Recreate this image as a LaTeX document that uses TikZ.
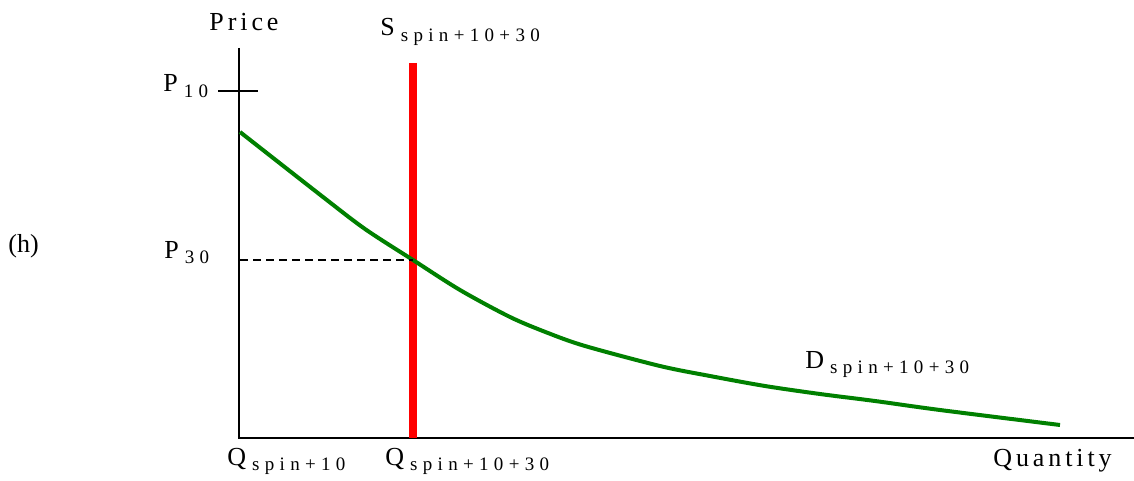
\documentclass[tikz,border=0pt]{standalone}
\usepackage{fontspec}
\setmainfont{Liberation Serif}
\newfontfamily\spacedfont[LetterSpace=15]{Liberation Serif}
\newfontfamily\subfont[LetterSpace=28]{Liberation Serif}
\usetikzlibrary{positioning}
\definecolor{demandgreen}{HTML}{008000}
\definecolor{supplyred}{HTML}{FF0000}
\newcommand{\sublab}[2]{#1\hspace{3pt}\raisebox{-0.45ex}{\fontsize{9.5}{10}\subfont #2}}

\begin{document}
\begin{tikzpicture}[x=0.5pt, y=-0.5pt,
  axis/.style={black, line width=1pt},
  demand/.style={demandgreen, line width=2pt},
  supply/.style={supplyred, line width=4pt},
  guide/.style={black, line width=0.7pt, dash pattern=on 4pt off 2.5pt},
  lbl/.style={font=\fontsize{13}{15}\selectfont\spacedfont, inner sep=0pt},
]
\useasboundingbox (0,0) rectangle (1134,481);
% axes
\coordinate (O)    at (239,438);
\coordinate (ytop) at (239,48);
\coordinate (xend) at (1134,438);
\draw[axis] (ytop) -- (O) -- (xend);
\coordinate (tickl) at (218,91);
\coordinate (tickr) at (258,91);
\draw[axis] (tickl) -- (tickr);
% supply
\coordinate (stop) at (413,63);
\coordinate (sbot) at (413,438);
\draw[supply] (stop) -- (sbot);
% demand
\draw[demand] plot[smooth, tension=0.5] coordinates {(240,132) (323,197) (365,229) (413,260) (460,290) (510,317) (548,333) (585,346) (660,366) (710,376) (765,386) (820,394) (875,401) (940,410) (1060,425)};
% equilibrium price
\coordinate (p30) at (240,260);
\coordinate (eq)  at (413,260);
\draw[guide] (p30) -- (eq);
% labels
\node[lbl, anchor=base] (price) at (244,31) {Price};
\node[lbl, anchor=base west] (slab) at (380,36) {\sublab{S}{spin+10+30}};
\node[lbl, anchor=base west] (ptop) at (163,92) {\sublab{P}{10}};
\node[lbl, anchor=base west] (peq)  at (164,258) {\sublab{P}{30}};
\node[font=\fontsize{13}{15}\selectfont, inner sep=0pt, anchor=base west] (panel) at (8,252) {(h)};
\node[lbl, anchor=base west] (qlow) at (227,465) {\sublab{Q}{spin+10}};
\node[lbl, anchor=base west] (qeq)  at (385,465) {\sublab{Q}{spin+10+30}};
\node[lbl, anchor=base west] (dlab) at (805,368) {\sublab{D}{spin+10+30}};
\node[lbl, anchor=base west] (qty)  at (993,466) {Quantity};
\end{tikzpicture}
\end{document}
